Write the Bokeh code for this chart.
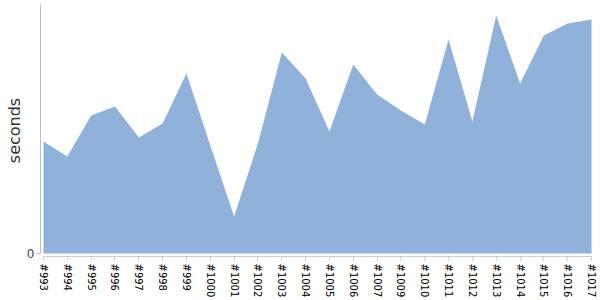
import numpy as np
from bokeh.plotting import figure
from bokeh.models import Range1d, FixedTicker
from bokeh.embed import file_html
from bokeh.resources import INLINE

builds = ["#993", "#994", "#995", "#996", "#997", "#998", "#999", "#1000",
          "#1001", "#1002", "#1003", "#1004", "#1005", "#1006", "#1007",
          "#1009", "#1010", "#1011", "#1012", "#1013", "#1014", "#1015",
          "#1016", "#1017"]
seconds = [11.2, 9.7, 13.8, 14.7, 11.6, 13.0, 18.0, 10.8,
           3.7, 11.0, 20.1, 17.5, 12.2, 18.9, 15.9,
           14.3, 12.9, 21.4, 13.2, 23.8, 17.0, 21.8,
           23.0, 23.4]

x = list(range(len(builds)))
n = len(builds)

p = figure(width=600, height=300, output_backend="svg", toolbar_location=None,
           x_range=Range1d(-0.126, n - 1 + 0.04), y_range=Range1d(-0.3, 24.9),
           min_border_left=40, min_border_right=8, min_border_top=4, min_border_bottom=0)
p.outline_line_color = None
p.grid.grid_line_color = None
p.background_fill_color = "white"

p.varea(x=x, y1=0, y2=seconds, fill_color="#8fb1da", fill_alpha=1.0)

xa = p.xaxis[0]
xa.ticker = FixedTicker(ticks=x)
xa.major_label_overrides = {i: b for i, b in enumerate(builds)}
xa.major_label_orientation = "vertical"
xa.bounds = (0, n - 1)
xa.axis_line_color = "#cccccc"
xa.major_tick_line_color = "#cccccc"
xa.major_tick_out = 4
xa.major_tick_in = 0
xa.minor_tick_line_color = None
xa.major_label_text_font = "DejaVu Sans"
xa.major_label_text_font_size = "10px"
xa.major_label_text_color = "#000000"
xa.major_label_standoff = 3

ya = p.yaxis[0]
ya.ticker = FixedTicker(ticks=[0])
ya.bounds = (0, 24.9)
ya.axis_line_color = "#bbbbbb"
ya.major_tick_line_color = "#bbbbbb"
ya.major_tick_out = 4
ya.major_tick_in = 0
ya.minor_tick_line_color = None
ya.major_label_text_font = "DejaVu Sans"
ya.major_label_text_font_size = "12px"
ya.major_label_text_color = "#444444"
ya.major_label_standoff = 2
ya.axis_label = "seconds"
ya.axis_label_text_font = "DejaVu Sans"
ya.axis_label_text_font_size = "16px"
ya.axis_label_text_font_style = "normal"
ya.axis_label_text_color = "#333333"
ya.axis_label_standoff = 0

open("out.html", "w").write(file_html(p, INLINE))
